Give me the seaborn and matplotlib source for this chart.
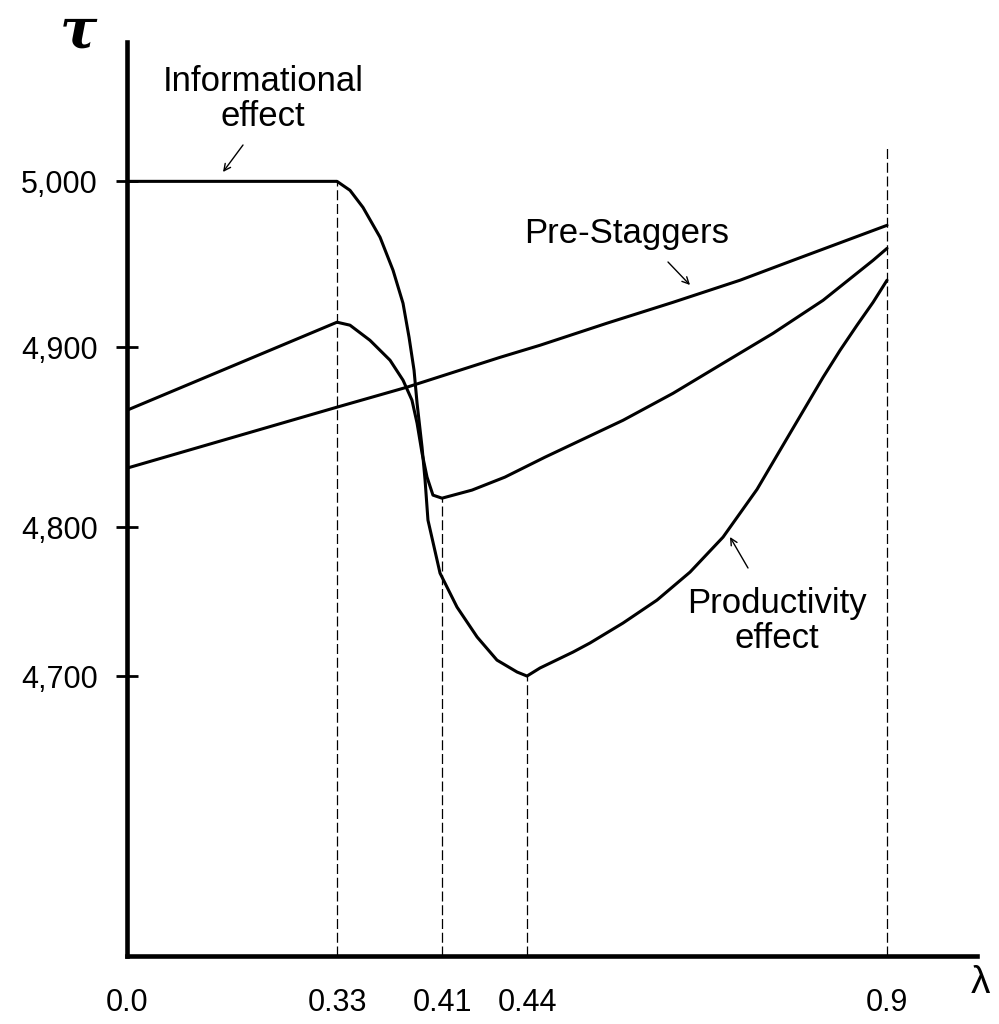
import numpy as np
import pandas as pd
import matplotlib
matplotlib.use("Agg")
import matplotlib.pyplot as plt
import seaborn as sns

# ---------------- data ----------------
lam_effect = [0.0, 0.33, 0.3399, 0.3498, 0.3628, 0.3727, 0.3803, 0.3849, 0.3887,
              0.3910, 0.3948, 0.3971, 0.3993, 0.4085, 0.4153, 0.4224, 0.4294,
              0.4365, 0.44, 0.4566, 0.4988, 0.5205, 0.5627, 0.6061, 0.6483,
              0.6905, 0.7339, 0.7761, 0.8183, 0.8400, 0.8617, 0.8822, 0.9]
tau_effect = [5000, 5000, 4994.6, 4984.3, 4966.3, 4946.4, 4926.5, 4906.0, 4887.2,
              4868.9, 4844.4, 4826.1, 4803.9, 4769.1, 4746.3, 4726.2, 4710.7,
              4702.7, 4700, 4705.4, 4716.1, 4722.2, 4735.6, 4751.0, 4769.8,
              4793.3, 4821.0, 4852.2, 4883.3, 4898.3, 4913.3, 4927.1, 4940.4]

lam_middle = [0.0, 0.33, 0.3399, 0.3551, 0.3704, 0.3803, 0.3871, 0.3910, 0.3948,
              0.3986, 0.4031, 0.41, 0.4206, 0.4322, 0.4630, 0.5627,
              0.6266, 0.6905, 0.7544, 0.8183, 0.8822, 0.9]
tau_middle = [4865.0, 4915.1, 4913.3, 4904.2, 4892.8, 4881.7, 4870.6, 4857.8, 4841.1,
              4827.8, 4817.8, 4816.1, 4820.6, 4827.8, 4838.9, 4859.4,
              4874.4, 4891.1, 4908.4, 4928.3, 4952.4, 4959.6]

lam_pre = [0.0, 0.33, 0.3833, 0.4305, 0.4566, 0.5422, 0.6266, 0.7122, 0.7799, 0.9]
tau_pre = [4832.8, 4866.7, 4877.8, 4894.4, 4901.2, 4914.5, 4927.1, 4940.4, 4952.4,
           4973.5]

guide_lam = [0.33, 0.41, 0.44, 0.9]
guide_top = [5000, 4816, 4700, 5021]

xtick_vals = [0.0, 0.33, 0.41, 0.44, 0.9]
xtick_labels = ["0.0", "0.33", "0.41", "0.44", "0.9"]
ytick_vals = [4700, 4800, 4900, 5000]
ytick_labels = ["4,700", "4,800", "4,900", "5,000"]

# ---------------- non-uniform (schematic) axis scales ----------------
X_ANCH = [-0.1, 0.0, 0.33, 0.41, 0.44, 0.9, 1.1]
X_POS = [63.4, 127, 337, 442, 527, 887, 1043.5]
Y_ANCH = [4400, 4700, 4800, 4900, 5000, 5200]
Y_POS = [-99, 348, 497, 677, 843, 1175]


def xf(v):
    return np.interp(v, X_ANCH, X_POS)


def xi(v):
    return np.interp(v, X_POS, X_ANCH)


def yf(v):
    return np.interp(v, Y_ANCH, Y_POS)


def yi(v):
    return np.interp(v, Y_POS, Y_ANCH)


sns.set_theme(style="white")
plt.rcParams["font.family"] = ["Liberation Sans", "DejaVu Sans"]
plt.rcParams["text.color"] = "black"
plt.rcParams["xtick.color"] = "black"
plt.rcParams["ytick.color"] = "black"
plt.rcParams["axes.edgecolor"] = "black"

W, H = 999, 1024
fig = plt.figure(figsize=(W / 100, H / 100), dpi=100)
ax = fig.add_axes([127 / W, 68 / H, 850 / W, 914 / H])

df_eff = pd.DataFrame({"lam": lam_effect, "tau": tau_effect})
df_mid = pd.DataFrame({"lam": lam_middle, "tau": tau_middle})
df_pre = pd.DataFrame({"lam": lam_pre, "tau": tau_pre})

for d in (df_eff, df_mid, df_pre):
    sns.lineplot(data=d, x="lam", y="tau", ax=ax, color="black", lw=2.2,
                 sort=False, estimator=None, solid_joinstyle="round",
                 solid_capstyle="round")

ax.set_xscale("function", functions=(xf, xi))
ax.set_yscale("function", functions=(yf, yi))
y_bottom, y_top = 4512, 5084
ax.set_xlim(0, 1.015)
ax.set_ylim(y_bottom, y_top)

ax.vlines(guide_lam, y_bottom, guide_top, colors="black",
          linestyles=(0, (8, 3)), lw=0.9)

ax.set_xlabel("")
ax.set_ylabel("")
ax.set_xticks(xtick_vals)
ax.set_xticklabels(xtick_labels, fontsize=22)
ax.set_yticks(ytick_vals)
ax.set_yticklabels(ytick_labels, fontsize=22)
ax.minorticks_off()
ax.tick_params(axis="x", length=0, pad=23, labelcolor="black")
ax.tick_params(axis="y", direction="inout", length=16, width=2, pad=13,
               left=True, color="black", labelcolor="black")

for s in ("top", "right"):
    ax.spines[s].set_visible(False)
for s in ("left", "bottom"):
    ax.spines[s].set_linewidth(3.3)
    ax.spines[s].set_color("black")


def fp(x, y):
    return (x / W, 1 - y / H)


fig.text(*fp(263, 99), "Informational\neffect", ha="center", va="center",
         fontsize=25, linespacing=1.08)
fig.text(*fp(627, 233), "Pre-Staggers", ha="center", va="center", fontsize=25)
fig.text(*fp(777, 621), "Productivity\neffect", ha="center", va="center",
         fontsize=25, linespacing=1.08)

arrow_kw = dict(arrowstyle="->", lw=1.0, color="black", shrinkA=0, shrinkB=0,
                mutation_scale=12)
ax.annotate("", xy=fp(223, 172), xytext=fp(243, 145),
            xycoords="figure fraction", textcoords="figure fraction",
            arrowprops=arrow_kw)
ax.annotate("", xy=fp(690, 285), xytext=fp(668, 262),
            xycoords="figure fraction", textcoords="figure fraction",
            arrowprops=arrow_kw)
ax.annotate("", xy=fp(730, 537), xytext=fp(748, 568),
            xycoords="figure fraction", textcoords="figure fraction",
            arrowprops=arrow_kw)

fig.text(*fp(78, 33), "τ", ha="center", va="center", fontsize=40,
         fontstyle="italic", fontweight="bold", family="DejaVu Serif")
fig.text(*fp(980, 983), "λ", ha="center", va="center", fontsize=28)

fig.savefig("out.png", dpi=100, facecolor="white")
